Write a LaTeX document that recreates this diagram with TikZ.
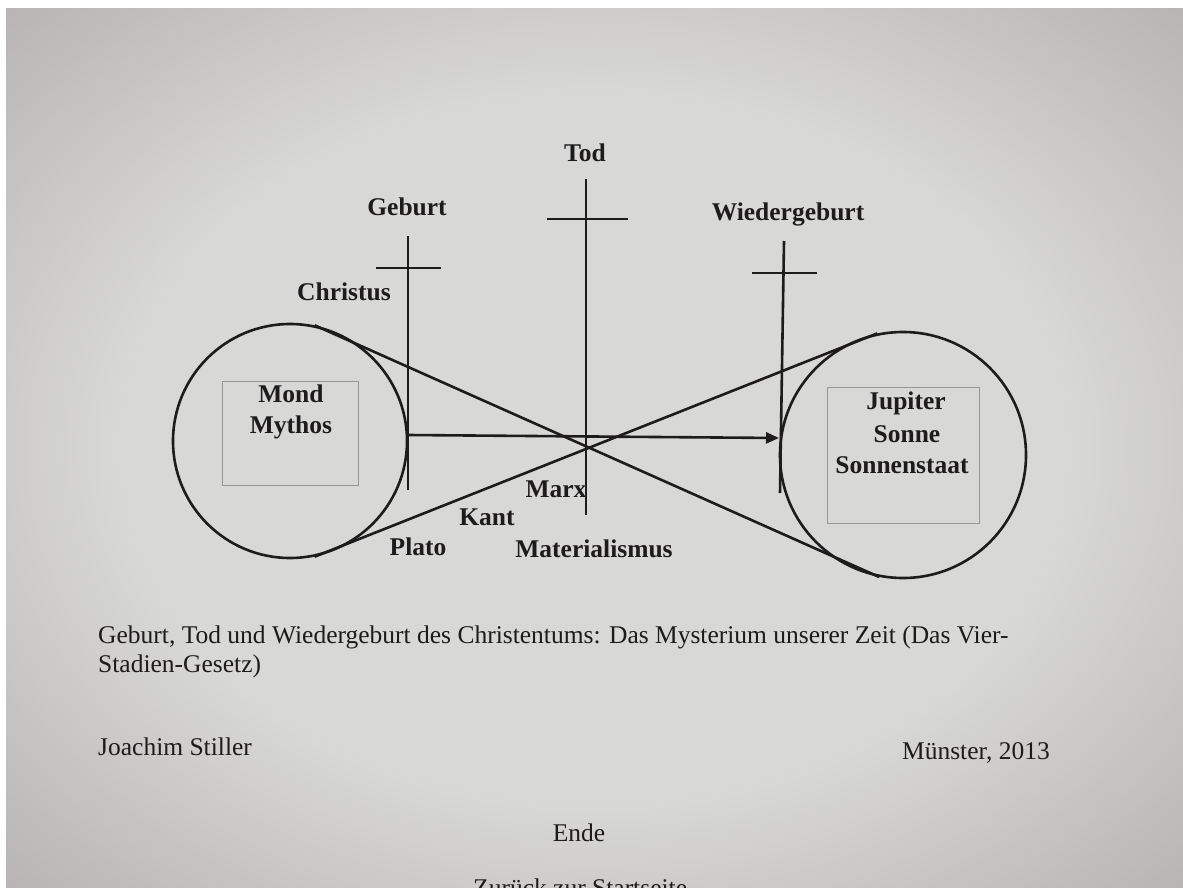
\documentclass[tikz,border=0pt]{standalone}
\usepackage{fontspec}
\setmainfont{Liberation Serif}
\usetikzlibrary{arrows.meta}
\definecolor{paperC}{RGB}{216,216,214}
\definecolor{paperM}{RGB}{178,175,174}
\definecolor{paperE}{RGB}{118,111,110}
\definecolor{ink}{RGB}{30,27,29}
\definecolor{boxgray}{RGB}{150,150,150}
\pgfdeclareradialshading{paper}{\pgfpoint{0bp}{0bp}}{color(0bp)=(paperC); color(20bp)=(paperC); color(38bp)=(paperM); color(56bp)=(paperE)}
\begin{document}
\begin{tikzpicture}[x=1pt,y=-1pt,
  lab/.style={font=\fontsize{25.5}{29}\selectfont\bfseries, text=ink, inner sep=0pt, anchor=base},
  txt/.style={font=\fontsize{25.5}{29}\selectfont, text=ink, inner sep=0pt, anchor=base west},
  heavy/.style={line width=2.6pt, draw=ink},
  planet/.style={circle, draw=ink, line width=2.6pt, inner sep=0pt},
  ibox/.style={rectangle, draw=boxgray, line width=0.9pt, inner sep=0pt}
]
\useasboundingbox (0,0) rectangle (1183,888);
\fill[white] (0,0) rectangle (1183,888);
\shade[shading=paper] (6,9) rectangle (1183,888);

% planets and boxes
\node[ibox, minimum width=136pt, minimum height=104pt] (mbox) at (290,433) {};
\node[ibox, minimum width=152pt, minimum height=136pt] (jbox) at (903,455) {};
\node[planet, minimum size=234pt] (mond) at (290,441) {};
\node[planet, minimum size=246pt] (jup) at (903,455) {};

% crosses
\coordinate (gT) at (408,236); \coordinate (gB) at (408,490);
\coordinate (gL) at (376,268); \coordinate (gR) at (441,268);
\coordinate (tT) at (586,179); \coordinate (tB) at (586,515);
\coordinate (tL) at (547,219); \coordinate (tR) at (628,219);
\coordinate (wT) at (784,241); \coordinate (wB) at (780,493);
\coordinate (wL) at (752,273); \coordinate (wR) at (817,273);
\draw[heavy] (gT) -- (gB);
\draw[heavy] (gL) -- (gR);
\draw[heavy] (tT) -- (tB);
\draw[heavy] (tL) -- (tR);
\draw[heavy] (wT) -- (wB);
\draw[heavy] (wL) -- (wR);

% crossing tangents
\draw[heavy] (mond.78) -- (jup.259);
\draw[heavy] (mond.282) -- (jup.102);

% arrow
\coordinate (aS) at (408,435);
\coordinate (aE) at (779,438);
\draw[heavy, -{Triangle[length=13pt,width=11pt]}] (aS) -- (aE);

% labels
\node[lab] (ltod) at (585,161) {Tod};
\node[lab] (lgeb) at (407,215) {Geburt};
\node[lab] (lchr) at (344,300) {Christus};
\node[lab] (lwie) at (788,220) {Wiedergeburt};
\node[lab] (lmond) at (291,402) {Mond};
\node[lab] (lmyth) at (291,433) {Mythos};
\node[lab] (ljup) at (906,409) {Jupiter};
\node[lab] (lson) at (907,442) {Sonne};
\node[lab] (lsst) at (902,473) {Sonnenstaat};
\node[lab] (lmarx) at (556,497) {Marx};
\node[lab] (lkant) at (487,525) {Kant};
\node[lab] (lplato) at (418,555) {Plato};
\node[lab] (lmat) at (594,557) {Materialismus};

% captions
\node[txt] (cap1) at (98,643) {Geburt, Tod und Wiedergeburt des Christentums: Das Mysterium unserer Zeit (Das Vier-};
\node[txt] (cap2) at (98,672) {Stadien-Gesetz)};
\node[txt] (auth) at (98,755) {Joachim Stiller};
\node[txt, anchor=base east] (place) at (1050,759) {Münster, 2013};
\node[txt, anchor=base] (ende) at (579,841) {Ende};
\node[txt] (back) at (473,896) {Zurück zur Startseite};
\end{tikzpicture}
\end{document}
